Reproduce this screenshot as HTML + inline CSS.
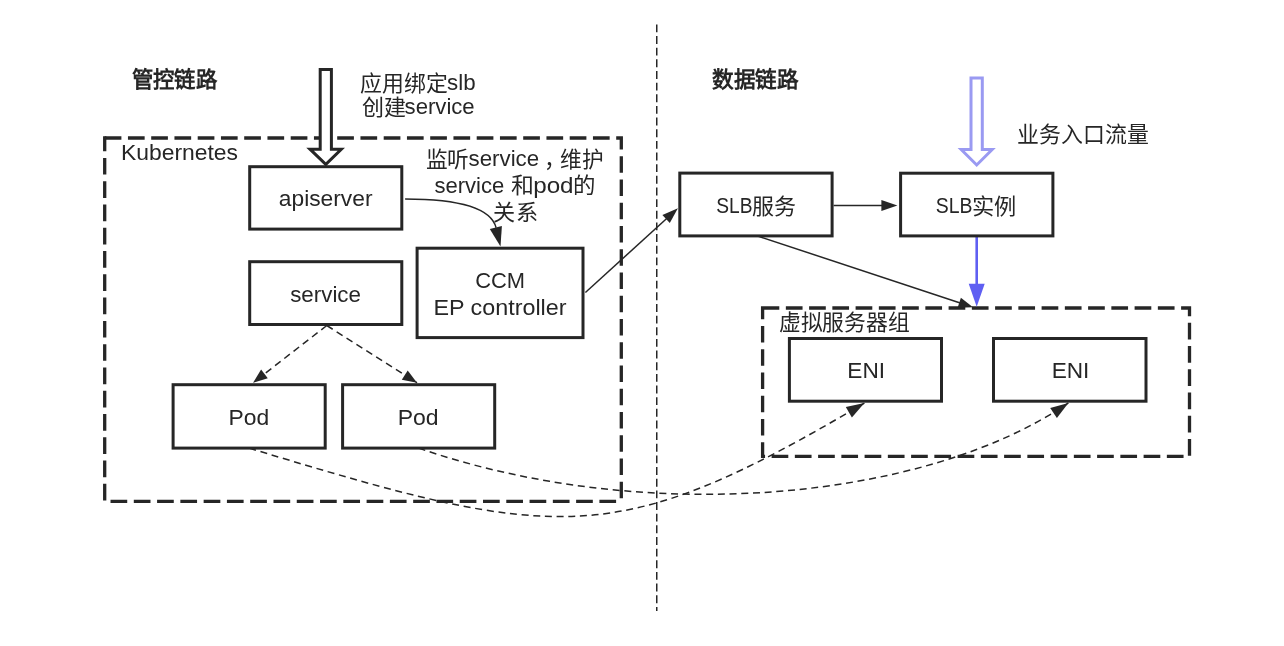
<!DOCTYPE html>
<html lang="zh-CN"><head><meta charset="utf-8">
<style>
html,body{margin:0;padding:0;background:#fff;width:1284px;height:646px;overflow:hidden}
svg{display:block;will-change:transform}
text{font-family:"Liberation Sans",sans-serif;fill:#262626;font-size:22px}
.b{font-weight:bold}
</style></head><body>
<svg width="1284" height="646" viewBox="0 0 1284 646">
<line x1="656.75" y1="24.4" x2="656.75" y2="611" stroke="#262626" stroke-width="1.5" stroke-dasharray="7.9 3.75"/>
<path d="M104.7,138 H621.3 V501.3" fill="none" stroke="#262626" stroke-width="3.3" stroke-dasharray="16.7 6.55"/>
<path d="M621.3,501.3 H104.7 V136.35" fill="none" stroke="#262626" stroke-width="3.3" stroke-dasharray="16.7 6.58" stroke-dashoffset="18.08"/>
<rect x="762.6" y="308" width="426.9" height="148.4" fill="none" stroke="#262626" stroke-width="3.3" stroke-dasharray="16.7 6.55"/>
<g fill="none" stroke="#262626" stroke-width="1.5" stroke-dasharray="7 4.7">
<path d="M249.1,448.1 C558.9,542.4 615.3,550.0 864.4,403.1"/>
<path d="M418.6,448.1 C646.4,526.9 926.1,500.4 1068.4,402.9"/>
<path d="M326.8,325.5 L253,382.8"/>
<path d="M326.8,325.5 L417,382.8"/>
</g>
<g fill="none" stroke="#262626" stroke-width="1.5">
<path d="M405.1,199.0 C442.1,199.0 489.9,203.1 496.1,227.8"/>
<line x1="585.4" y1="292.5" x2="670" y2="215.5"/>
<line x1="833.6" y1="205.6" x2="888" y2="205.6"/>
<line x1="758.5" y1="236.3" x2="964" y2="304.3"/>
</g>
<line x1="976.7" y1="237" x2="976.7" y2="292" stroke="#5f5ff2" stroke-width="2.6"/>
<g fill="#fff" stroke="#262626" stroke-width="3">
<rect x="249.7" y="166.7" width="152.1" height="62.4"/>
<rect x="249.7" y="261.7" width="152.1" height="62.8"/>
<rect x="417.1" y="248.2" width="165.9" height="89.4"/>
<rect x="173.1" y="384.7" width="152.1" height="63.4"/>
<rect x="342.6" y="384.7" width="152.1" height="63.4"/>
<rect x="679.8" y="173.1" width="152.3" height="62.8"/>
<rect x="900.6" y="173.2" width="152.3" height="62.7"/>
<rect x="789.4" y="338.5" width="152.1" height="62.7"/>
<rect x="993.5" y="338.5" width="152.5" height="62.7"/>
</g>
<path d="M500.5,246.5 L489.8,229.1 L501.9,226.1 Z" fill="#262626"/>
<path d="M253.0,382.8 L261.1,369.6 L267.8,378.3 Z" fill="#262626"/>
<path d="M417.0,382.8 L401.8,379.7 L407.7,370.4 Z" fill="#262626"/>
<path d="M677.9,208.2 L669.8,223.0 L662.4,214.9 Z" fill="#262626"/>
<path d="M897.4,205.6 L881.4,211.1 L881.4,200.1 Z" fill="#262626"/>
<path d="M973.0,307.3 L957.6,307.7 L960.9,297.8 Z" fill="#262626"/>
<path d="M864.4,403.1 L851.9,417.4 L845.8,407.1 Z" fill="#262626"/>
<path d="M1068.4,402.9 L1056.9,418.0 L1050.2,408.1 Z" fill="#262626"/>
<path d="M976.7,306.8 L968.7,283.8 L984.7,283.8 Z" fill="#5f5ff2"/>
<path d="M320.2,69.5 L331.4,69.5 L331.4,149.2 L341.3,149.2 L325.8,164.3 L310,149.2 L320.2,149.2 Z" fill="#fff" stroke="#262626" stroke-width="3"/>
<path d="M971,78 L982.3,78 L982.3,149.5 L992.2,149.5 L976.7,165 L961.2,149.5 L971,149.5 Z" fill="#fff" stroke="#9a9af2" stroke-width="3"/>
<text class="b" x="131.70" y="87.20" textLength="85.50" lengthAdjust="spacingAndGlyphs">管控链路</text>
<text class="b" x="712.10" y="87.20" textLength="86.50" lengthAdjust="spacingAndGlyphs">数据链路</text>
<text x="360.11" y="90.60" textLength="87.49" lengthAdjust="spacingAndGlyphs">应用绑定</text>
<text x="447.09" y="89.80" textLength="28.54" lengthAdjust="spacingAndGlyphs">slb</text>
<text x="361.60" y="114.90" textLength="44.00" lengthAdjust="spacingAndGlyphs">创建</text>
<text x="404.59" y="114.10" textLength="70.10" lengthAdjust="spacingAndGlyphs">service</text>
<text x="121.02" y="159.80" textLength="117.03" lengthAdjust="spacingAndGlyphs">Kubernetes</text>
<text x="425.71" y="166.50" textLength="43.37" lengthAdjust="spacingAndGlyphs">监听</text>
<text x="468.59" y="165.70" textLength="70.51" lengthAdjust="spacingAndGlyphs">service</text>
<text x="544.30" y="166.50">，</text>
<text x="560.31" y="166.50" textLength="43.37" lengthAdjust="spacingAndGlyphs">维护</text>
<text x="434.50" y="192.80" textLength="69.79" lengthAdjust="spacingAndGlyphs">service</text>
<text x="510.66" y="193.40" textLength="22.93" lengthAdjust="spacingAndGlyphs">和</text>
<text x="533.20" y="192.60" textLength="40.39" lengthAdjust="spacingAndGlyphs">pod</text>
<text x="573.16" y="193.40" textLength="22.46" lengthAdjust="spacingAndGlyphs">的</text>
<text x="493.39" y="220.10" textLength="44.32" lengthAdjust="spacingAndGlyphs">关系</text>
<text x="278.87" y="206.20" textLength="93.64" lengthAdjust="spacingAndGlyphs">apiserver</text>
<text x="290.18" y="301.60" textLength="70.81" lengthAdjust="spacingAndGlyphs">service</text>
<text x="475.17" y="287.80" font-size="23.5" textLength="49.86" lengthAdjust="spacingAndGlyphs">CCM</text>
<text x="433.48" y="314.70" textLength="133.00" lengthAdjust="spacingAndGlyphs">EP controller</text>
<text x="228.62" y="424.80" textLength="40.68" lengthAdjust="spacingAndGlyphs">Pod</text>
<text x="397.71" y="424.80" textLength="40.90" lengthAdjust="spacingAndGlyphs">Pod</text>
<text x="716.28" y="213.00" font-size="23.5" textLength="36.28" lengthAdjust="spacingAndGlyphs">SLB</text>
<text x="752.10" y="213.80" textLength="44.00" lengthAdjust="spacingAndGlyphs">服务</text>
<text x="935.87" y="212.80" font-size="23.5" textLength="36.70" lengthAdjust="spacingAndGlyphs">SLB</text>
<text x="971.69" y="213.60" textLength="44.42" lengthAdjust="spacingAndGlyphs">实例</text>
<text x="1017.20" y="141.90" textLength="131.39" lengthAdjust="spacingAndGlyphs">业务入口流量</text>
<text x="778.81" y="330.20" textLength="130.68" lengthAdjust="spacingAndGlyphs">虚拟服务器组</text>
<text x="847.37" y="377.90" font-size="23.5" textLength="37.73" lengthAdjust="spacingAndGlyphs">ENI</text>
<text x="1051.67" y="377.90" font-size="23.5" textLength="37.73" lengthAdjust="spacingAndGlyphs">ENI</text>
</svg>
</body></html>
